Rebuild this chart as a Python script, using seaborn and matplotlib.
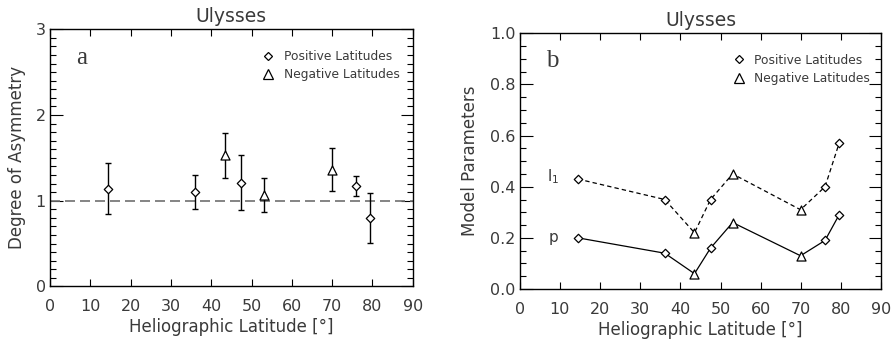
import numpy as np
import pandas as pd
import matplotlib
matplotlib.use("Agg")
import matplotlib.pyplot as plt
from matplotlib.lines import Line2D
from matplotlib.ticker import MultipleLocator
import seaborn as sns

# ---- data ----
latitude = [14.5, 36.1, 43.5, 47.5, 53.0, 69.9, 76.0, 79.5]
hemisphere = ["Positive", "Positive", "Negative", "Positive",
              "Negative", "Negative", "Positive", "Positive"]
asymmetry = [1.14, 1.10, 1.53, 1.21, 1.07, 1.36, 1.17, 0.80]
asymmetry_err = [0.30, 0.20, 0.26, 0.32, 0.20, 0.25, 0.12, 0.29]
l1_values = [0.43, 0.35, 0.22, 0.35, 0.45, 0.31, 0.40, 0.57]
p_values = [0.20, 0.14, 0.06, 0.16, 0.26, 0.13, 0.19, 0.29]
legend_labels = ["Positive Latitudes", "Negative Latitudes"]

df = pd.DataFrame({"lat": latitude, "hem": hemisphere, "asym": asymmetry,
                   "err": asymmetry_err, "l1": l1_values, "p": p_values})

sns.set_theme(style="ticks")
plt.rcParams["font.family"] = ["DejaVu Sans"]
TXT = "#3a3a3a"
plt.rcParams.update({
    "text.color": TXT, "axes.labelcolor": TXT,
    "xtick.color": "black", "ytick.color": "black",
    "xtick.labelcolor": TXT, "ytick.labelcolor": TXT,
    "axes.edgecolor": "black", "axes.linewidth": 1.0,
})

fig = plt.figure(figsize=(8.96, 3.42), dpi=100)
W, H = 896, 342
axa = fig.add_axes([50 / W, 1 - 286.4 / H, (412.7 - 50) / W, (286.4 - 29.3) / H])
axb = fig.add_axes([519.7 / W, 1 - 289 / H, (881.3 - 519.7) / W, (289 - 33.3) / H])

mk = {"Positive": "D", "Negative": "^"}
msize = {"Positive": 4.3, "Negative": 6.5}

def style_axes(ax):
    ax.set_xlim(0, 90)
    ax.xaxis.set_major_locator(MultipleLocator(10))
    ax.tick_params(axis="both", which="both", direction="in", top=True, right=True,
                   labelsize=11.5)
    ax.tick_params(axis="x", which="major", length=5, width=0.8, pad=9)
    ax.tick_params(axis="y", which="major", length=9, width=0.8, pad=3)
    ax.tick_params(axis="y", which="minor", length=4, width=0.8)
    ax.set_xlabel("Heliographic Latitude [°]", fontsize=12, labelpad=3)
    ax.set_title("Ulysses", fontsize=13.5, pad=5)
    for s in ax.spines.values():
        s.set_visible(True)

def add_legend(ax, x, y):
    handles = [Line2D([], [], ls="none", marker="D", ms=4.3, mfc="white", mec="black", mew=0.9),
               Line2D([], [], ls="none", marker="^", ms=6.5, mfc="white", mec="black", mew=0.9)]
    ax.legend(handles, legend_labels, loc="upper left", bbox_to_anchor=(x, y),
              frameon=False, fontsize=8.8, handlelength=1.0, handletextpad=0.75,
              labelspacing=0.45, borderpad=0, borderaxespad=0)

# ---- panel a ----
ax = axa
ax.axhline(1.0, color="#707070", ls=(0, (6, 3)), lw=1.2, zorder=1)
ax.errorbar(df["lat"], df["asym"], yerr=df["err"], fmt="none", ecolor="black",
            elinewidth=1.0, capsize=2, capthick=1.0, zorder=2)
for h in ["Positive", "Negative"]:
    sub = df[df["hem"] == h]
    sns.scatterplot(data=sub, x="lat", y="asym", marker=mk[h], s=msize[h] ** 2,
                    facecolor="white", edgecolor="black", linewidth=0.9, ax=ax, zorder=3)
ax.set_ylim(0, 3)
ax.yaxis.set_major_locator(MultipleLocator(1))
ax.yaxis.set_minor_locator(MultipleLocator(0.1))
ax.set_ylabel("Degree of Asymmetry", fontsize=12, labelpad=7)
style_axes(ax)
ax.text(0.072, 0.89, "a", transform=ax.transAxes, fontsize=18,
        family="Liberation Serif", color=TXT, va="center")
add_legend(ax, 0.585, 0.92)

# ---- panel b ----
ax = axb
sns.lineplot(data=df, x="lat", y="l1", color="black", lw=0.9, ax=ax, sort=True,
             dashes=False, zorder=2).lines[-1].set_linestyle((0, (3.5, 2.5)))
sns.lineplot(data=df, x="lat", y="p", color="black", lw=0.9, ax=ax, sort=True, zorder=2)
for col in ["l1", "p"]:
    for h in ["Positive", "Negative"]:
        sub = df[df["hem"] == h]
        sns.scatterplot(data=sub, x="lat", y=col, marker=mk[h], s=msize[h] ** 2,
                        facecolor="white", edgecolor="black", linewidth=0.9, ax=ax, zorder=3)
ax.set_ylim(0, 1.0)
ax.yaxis.set_major_locator(MultipleLocator(0.2))
ax.yaxis.set_minor_locator(MultipleLocator(0.05))
ax.yaxis.set_major_formatter(matplotlib.ticker.FormatStrFormatter("%.1f"))
ax.set_ylabel("Model Parameters", fontsize=12, labelpad=8)
style_axes(ax)
ax.text(0.072, 0.89, "b", transform=ax.transAxes, fontsize=18,
        family="Liberation Serif", color=TXT, va="center")
ax.text(8.4, 0.44, "l$_1$", fontsize=11, color=TXT, ha="center", va="center")
ax.text(8.4, 0.20, "p", fontsize=11, color=TXT, ha="center", va="center")
add_legend(ax, 0.59, 0.92)

fig.savefig("out.png", dpi=100)
